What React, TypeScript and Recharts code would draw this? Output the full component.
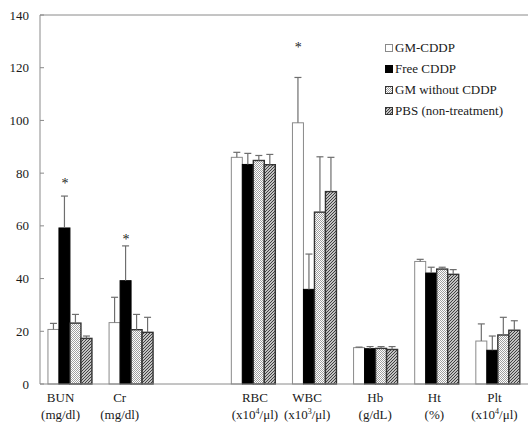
import React from 'react';
import {
  ComposedChart,
  Bar,
  XAxis,
  YAxis,
  ReferenceLine,
  ReferenceDot,
  Legend,
} from 'recharts';

// ---------- data ----------
const categories = ['BUN', 'Cr', '', 'RBC', 'WBC', 'Hb', 'Ht', 'Plt'];
const units = ['(mg/dl)', '(mg/dl)', '', '(x10^4/μl)', '(x10^3/μl)', '(g/dL)', '(%)', '(x10^4/μl)'];
const seriesNames = ['GM-CDDP', 'Free CDDP', 'GM without CDDP', 'PBS (non-treatment)'];

const gmCddp = [20.7, 23.3, null, 86.0, 99.1, 13.8, 46.5, 16.3];
const gmCddpSd = [2.3, 9.6, null, 1.9, 17.2, 0.2, 0.8, 6.5];
const freeCddp = [59.2, 39.2, null, 83.3, 35.9, 13.4, 42.1, 12.8];
const freeCddpSd = [12.1, 13.2, null, 4.2, 13.4, 0.8, 2.2, 5.4];
const gmWithout = [23.1, 20.6, null, 84.8, 65.2, 13.5, 43.6, 18.6];
const gmWithoutSd = [3.3, 5.8, null, 1.9, 21.0, 0.7, 0.7, 6.7];
const pbs = [17.3, 19.6, null, 83.2, 73.0, 13.1, 41.6, 20.4];
const pbsSd = [0.9, 5.7, null, 3.9, 13.0, 1.1, 1.8, 3.6];

const yTicks = [0, 20, 40, 60, 80, 100, 120, 140];

// significance markers (category, series index, height in y units)
const starCategories = ['BUN', 'Cr', 'WBC'];
const starSeries = [1, 1, 0];
const starHeights = [76.6, 55.3, 128.2];

// ---------- table built from arrays ----------
const values = [gmCddp, freeCddp, gmWithout, pbs];
const sds = [gmCddpSd, freeCddpSd, gmWithoutSd, pbsSd];
const data = categories.map((c, i) => {
  const row: any = { cat: c };
  values.forEach((arr, s) => {
    row['v' + s] = arr[i];
    row['e' + s] = sds[s][i];
  });
  return row;
});
const boundaryTicks = categories.map((_, i) => i).slice(1);

// ---------- styles ----------
const FONT = '"Liberation Serif", "Times New Roman", serif';
const AXIS = '#8a8a8a';
const TEXT = '#1a1a1a';
const W = 529;
const H = 423;
const BAR_PX = 11.2;
const CAP = 7;
const LABEL_DX = [-10, -12, 0, 1, -8, -1, -3, -4];

const fills = ['#ffffff', '#000000', 'url(#dots)', 'url(#diag)'];
const strokes = ['#8a8a8a', '#000000', '#333333', '#333333'];
const strokeWidths = [1, 1, 1.4, 1.4];

const CatTick = (props: any) => {
  const { x, y, payload } = props;
  const i = categories.indexOf(payload.value);
  const unit = units[i] || '';
  const dx = LABEL_DX[i] || 0;
  const parts = unit.split('^');
  return (
    <g transform={`translate(${x + dx},${y})`}>
      <text x={0} y={16} textAnchor="middle" fontFamily={FONT} fontSize={13} fill={TEXT}>
        {payload.value}
      </text>
      <text x={0} y={33} textAnchor="middle" fontFamily={FONT} fontSize={13} fill={TEXT}>
        {parts.length === 1 ? (
          unit
        ) : (
          <>
            <tspan>{parts[0]}</tspan>
            <tspan dy={-5} fontSize={8}>{parts[1].charAt(0)}</tspan>
            <tspan dy={5}>{parts[1].slice(1)}</tspan>
          </>
        )}
      </text>
    </g>
  );
};

// bar + one-sided (upper) SD whisker, scaled by the bar's own pixel/unit ratio
const barShape = (s: number) => (props: any) => {
  const { x, y, width, height, payload } = props;
  const v = payload['v' + s];
  const e = payload['e' + s];
  if (v == null || !(height > 0)) return <g />;
  const k = height / v;
  const top = y - (e || 0) * k;
  const cx = x + width / 2;
  return (
    <g>
      <rect x={x} y={y} width={width} height={height} fill={fills[s]} stroke={strokes[s]} strokeWidth={strokeWidths[s]} />
      {e ? (
        <g stroke="#6e6e6e" strokeWidth={1.2}>
          <line x1={cx} x2={cx} y1={y} y2={top} />
          <line x1={cx - CAP / 2} x2={cx + CAP / 2} y1={top} y2={top} />
        </g>
      ) : null}
    </g>
  );
};

const LegendIcon = ({ s }: { s: number }) => (
  <svg width={8} height={8} style={{ display: 'block' }}>
    <rect x={0.5} y={0.5} width={7} height={7} fill={fills[s]} stroke={strokes[s]} strokeWidth={1} />
  </svg>
);

const LegendContent = () => (
  <div style={{ fontFamily: FONT, fontSize: 13, color: TEXT }}>
    {seriesNames.map((n, s) => (
      <div key={n} style={{ display: 'flex', alignItems: 'center', height: 21, whiteSpace: 'nowrap' }}>
        <LegendIcon s={s} />
        <span style={{ marginLeft: 2 }}>{n}</span>
      </div>
    ))}
  </div>
);

const Star = (series: number) => (props: any) => {
  const { cx, cy } = props;
  return (
    <text x={cx + (series - 1.5) * BAR_PX} y={cy + 6} textAnchor="middle" fontFamily={FONT} fontSize={14} fill="#222">
      *
    </text>
  );
};

export default function App() {
  return (
    <div style={{ position: 'absolute', left: 0, top: 0, width: W, height: H, background: '#fff' }}>
      <ComposedChart
        width={W}
        height={H}
        data={data}
        margin={{ top: 15, right: 0, left: 0, bottom: 0 }}
        barCategoryGap="13%"
        barGap={0}
      >
        <defs>
          <pattern id="dots" width={2} height={2} patternUnits="userSpaceOnUse">
            <rect width={2} height={2} fill="#fff" />
            <rect width={1} height={1} fill="#a0a0a0" />
            <rect x={1} y={1} width={1} height={1} fill="#a0a0a0" />
          </pattern>
          <pattern id="diag" width={3} height={3} patternUnits="userSpaceOnUse">
            <rect width={3} height={3} fill="#fff" />
            <path d="M-1,1 L1,-1 M0,3 L3,0 M2,4 L4,2" stroke="#3a3a3a" strokeWidth={1.2} />
          </pattern>
        </defs>
        <XAxis
          xAxisId="edge"
          type="number"
          domain={[0, categories.length]}
          ticks={boundaryTicks}
          height={0}
          axisLine={false}
          tick={false}
          tickSize={-4}
          tickLine={{ stroke: AXIS }}
          allowDataOverflow
        />
        <XAxis
          xAxisId="cat"
          dataKey="cat"
          height={39}
          axisLine={{ stroke: AXIS }}
          tickLine={false}
          tickSize={0}
          tick={<CatTick />}
          interval={0}
        />
        <YAxis
          width={40}
          domain={[0, 140]}
          ticks={yTicks}
          axisLine={{ stroke: AXIS }}
          tickLine={{ stroke: AXIS }}
          tickSize={-4}
          tickMargin={15}
          tick={{ fontFamily: FONT, fontSize: 13, fill: TEXT }}
          interval={0}
        />
        <ReferenceLine xAxisId="cat" y={140} stroke={AXIS} />
        {values.map((_, s) => (
          <Bar
            key={s}
            xAxisId="cat"
            dataKey={'v' + s}
            name={seriesNames[s]}
            fill={fills[s]}
            stroke={strokes[s]}
            strokeWidth={strokeWidths[s]}
            shape={barShape(s)}
            isAnimationActive={false}
          />
        ))}
        {starCategories.map((c, k) => (
          <ReferenceDot
            key={c}
            xAxisId="cat"
            x={c}
            y={starHeights[k]}
            r={0}
            shape={Star(starSeries[k])}
          />
        ))}
        <Legend
          layout="vertical"
          align="center"
          verticalAlign="middle"
          content={<LegendContent />}
          wrapperStyle={{ position: 'absolute', left: 385, top: 37, width: 140, height: 84 }}
        />
      </ComposedChart>
    </div>
  );
}
